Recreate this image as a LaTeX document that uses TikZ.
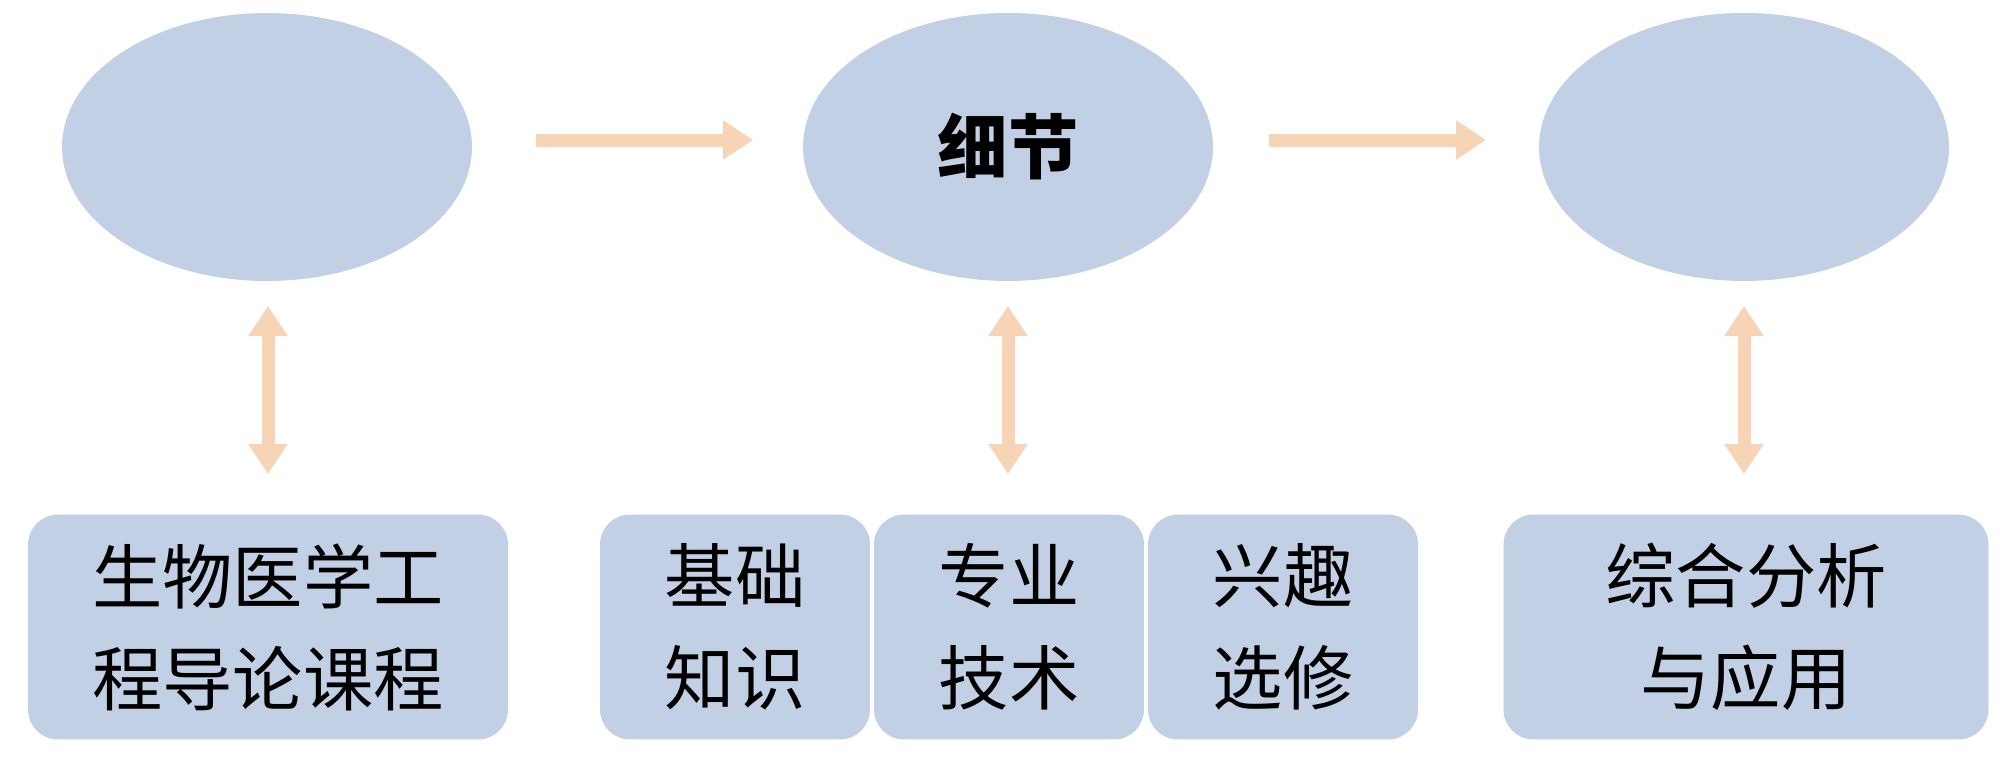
\documentclass[tikz,border=0pt]{standalone}
\usepackage{fontspec}
\setmainfont{Noto Sans CJK SC}
\usetikzlibrary{arrows.meta}
\usetikzlibrary{shapes.geometric}
\usetikzlibrary{positioning}
\definecolor{stagefill}{HTML}{C1D0E4}
\definecolor{linkcol}{HTML}{F8D4B6}

\begin{document}
\begin{tikzpicture}[
    x=0.02cm, y=-0.02cm,
    stage/.style={ellipse,fill=stagefill,minimum width=8.2cm,minimum height=5.36cm},
    course/.style={rounded corners=0.6cm,fill=stagefill,minimum height=4.5cm,
        font=\fontsize{40}{58}\selectfont,align=center},
    link/.style={linkcol,line width=0.26cm,-{Triangle[length=0.6cm,width=0.75cm]}},
    both/.style={link,{Triangle[length=0.6cm,width=0.75cm]}-{Triangle[length=0.6cm,width=0.75cm]}}
    ]
    \fill[white] (0,0) rectangle (2000,771);

    \node[stage] (s1) at (267,147) {};
    \node[stage] (s2) at (1008,147) {\fontsize{40}{48}\selectfont\bfseries 细节};
    \node[stage] (s3) at (1744,147) {};

    \node[course,minimum width=9.6cm] (c1) at (268,627) {生物医学工\\程导论课程};
    \node[course,minimum width=5.4cm] (c2) at (735,627) {基础\\知识};
    \node[course,minimum width=5.4cm] (c3) at (1009,627) {专业\\技术};
    \node[course,minimum width=5.4cm] (c4) at (1283,627) {兴趣\\选修};
    \node[course,minimum width=9.7cm] (c5) at (1746,627) {综合分析\\与应用};

    \coordinate (a1) at (536,140);
    \coordinate (b1) at (753,140);
    \coordinate (a2) at (1269,140);
    \coordinate (b2) at (1486,140);
    \draw[link] (a1) -- (b1);
    \draw[link] (a2) -- (b2);

    \coordinate (u1) at (268,306);
    \coordinate (d1) at (268,474);
    \coordinate (u2) at (1008,306);
    \coordinate (d2) at (1008,474);
    \coordinate (u3) at (1744,306);
    \coordinate (d3) at (1744,474);
    \draw[both] (u1) -- (d1);
    \draw[both] (u2) -- (d2);
    \draw[both] (u3) -- (d3);
\end{tikzpicture}
\end{document}
